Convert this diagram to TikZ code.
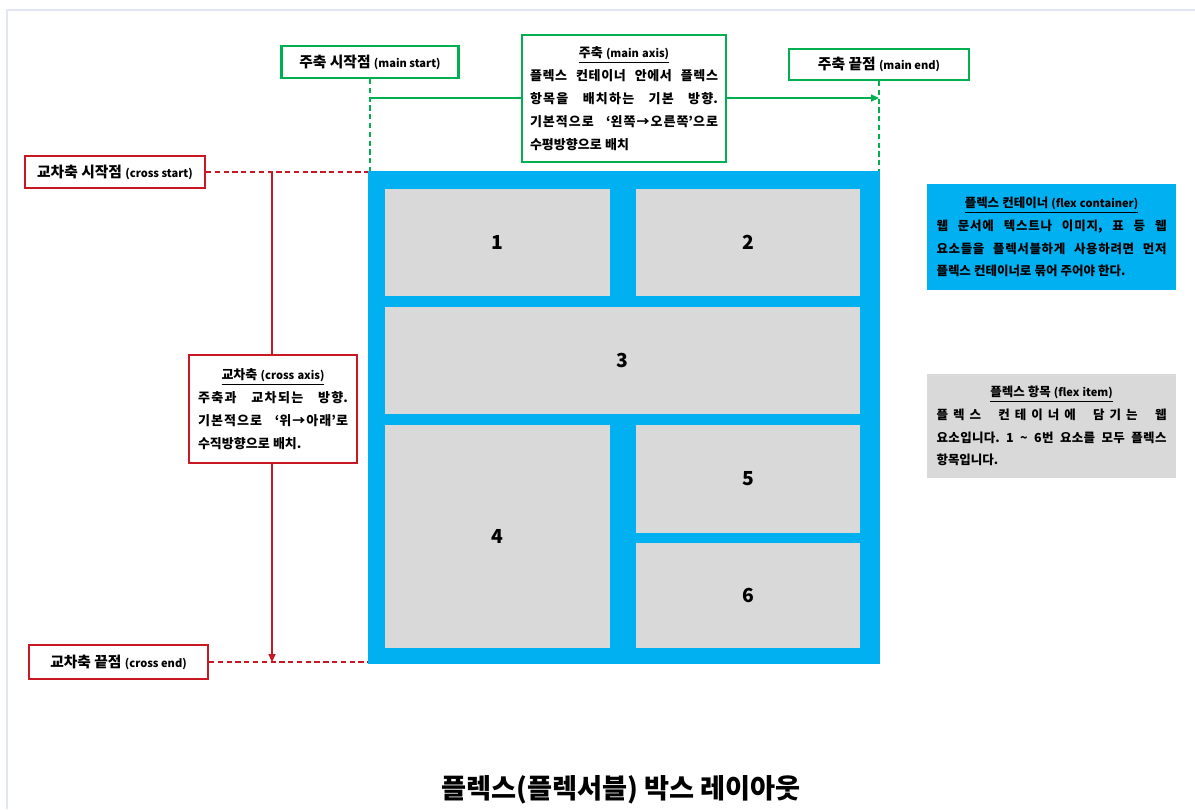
\documentclass[tikz,border=0pt]{standalone}
\usepackage{fontspec}
\setmainfont{Noto Sans CJK KR}
\usetikzlibrary{arrows.meta, positioning}
\XeTeXlinebreaklocale "ko"
\XeTeXlinebreakskip=0pt plus 0.5pt minus 0.15pt
\frenchspacing
\definecolor{boxgreen}{RGB}{0,176,80}
\definecolor{boxred}{RGB}{200,24,36}
\definecolor{flexblue}{RGB}{0,176,240}
\definecolor{itemgray}{RGB}{217,217,217}
\definecolor{pageedge}{RGB}{226,229,246}
\newcommand{\eng}[1]{{\fontsize{6.3}{6}\selectfont #1}}
\newcommand{\widespaces}{\spaceskip=.25em plus .6em minus .05em\relax}

\begin{document}
\begin{tikzpicture}[x=0.02cm, y=-0.02cm,
    tagbox/.style={fill=white, line width=1.2pt, inner sep=0pt,
        font=\fontsize{8.4}{13}\selectfont\bfseries},
    mainbox/.style={tagbox, draw=boxgreen},
    crossbox/.style={tagbox, draw=boxred},
    textbox/.style={align=justify,
        font=\fontsize{7.4}{13}\selectfont\bfseries\widespaces},
    note/.style={tagbox, textbox, draw=none,
        font=\fontsize{7.1}{13}\selectfont\bfseries\widespaces},
    flexitem/.style={fill=itemgray, inner sep=0pt,
        font=\fontsize{11}{13}\selectfont\bfseries},
    mainline/.style={boxgreen, line width=0.9pt},
    crossline/.style={boxred, line width=0.9pt},
    guide/.style={dash pattern=on 3pt off 2pt},
    tip/.style={-{Triangle[length=4.5pt, width=4pt]}}]
  \useasboundingbox (0,0) rectangle (1195,809);
  \draw[pageedge, line width=0.8pt] (7,809) -- (7,10) -- (1195,10);

  % flex container and its items
  \node[fill=flexblue, inner sep=0pt, minimum width=10.24cm, minimum height=9.86cm] (flex) at (624,417.5) {};
  \node[flexitem, minimum width=4.5cm, minimum height=2.14cm] (i1) at (497.5,242.5) {1};
  \node[flexitem, minimum width=4.48cm, minimum height=2.14cm] (i2) at (748,242.5) {2};
  \node[flexitem, minimum width=9.5cm, minimum height=2.14cm] (i3) at (622.5,360.5) {3};
  \node[flexitem, minimum width=4.5cm, minimum height=4.46cm] (i4) at (497.5,536.5) {4};
  \node[flexitem, minimum width=4.48cm, minimum height=2.16cm] (i5) at (748,479) {5};
  \node[flexitem, minimum width=4.48cm, minimum height=2.1cm] (i6) at (748,595.5) {6};

  % start and end labels
  \node[mainbox, minimum width=3.54cm, minimum height=0.64cm] (ms) at (370,62) {주축 시작점 \eng{(main start)}};
  \node[mainbox, minimum width=3.6cm, minimum height=0.62cm] (me) at (879,64.5) {주축 끝점 \eng{(main end)}};
  \node[crossbox, minimum width=3.6cm, minimum height=0.64cm] (cs) at (115,172) {교차축 시작점 \eng{(cross start)}};
  \node[crossbox, minimum width=3.58cm, minimum height=0.68cm] (ce) at (118.5,662) {교차축 끝점 \eng{(cross end)}};

  \coordinate (mainy) at (0,98);
  \coordinate (crossx) at (272,0);

  \draw[mainline, guide] (ms) -- (ms.south |- flex.north);
  \draw[mainline, guide] (me) -- (me.south |- flex.north);
  \draw[mainline, tip] (ms.south |- mainy) -- (me.south |- mainy);
  \draw[crossline, guide] (cs) -- (cs.east -| flex.west);
  \draw[crossline, guide] (ce) -- (ce.east -| flex.west);
  \draw[crossline, tip] (cs.east -| crossx) -- (ce.east -| crossx);

  % axis notes
  \node[mainbox, textbox, text width=3.76cm, inner xsep=0.16cm, minimum height=2.54cm] (axis) at (624,98.5)
    {{\centering\underline{주축 \eng{(main axis)}}\par}
     플렉스 컨테이너 안에서 플렉스\linebreak 항목을 배치하는 기본 방향.\linebreak
     기본적으로 ‘왼쪽→오른쪽’으로\linebreak 수평방향으로 배치};
  \node[crossbox, textbox, text width=3cm, inner xsep=0.18cm, minimum height=2.16cm] (cross) at (273,409)
    {{\centering\underline{교차축 \eng{(cross axis)}}\par}
     주축과 교차되는 방향.\linebreak 기본적으로 ‘위→아래’로\linebreak 수직방향으로 배치.};

  % legend
  \node[note, fill=flexblue, text width=4.6cm, inner xsep=0.19cm, minimum height=2.12cm] (fc) at (1051.5,237)
    {{\centering\underline{플렉스 컨테이너 \eng{(flex container)}}\par}
     웹 문서에 텍스트나 이미지, 표 등 웹\linebreak 요소들을 플렉서블하게 사용하려면 먼저\linebreak
     플렉스 컨테이너로 묶어 주어야 한다.};
  \node[note, fill=itemgray, text width=4.6cm, inner xsep=0.19cm, minimum height=2.08cm] (fi) at (1051.5,426)
    {{\centering\underline{플렉스 항목 \eng{(flex item)}}\par}
     {\XeTeXlinebreakskip=0pt plus 1.5pt 플렉스 컨테이너에 담기는 웹}\linebreak
     요소입니다. 1 \textasciitilde{} 6번 요소를 모두 플렉스\linebreak 항목입니다.};

  \node[font=\fontsize{15.5}{18}\selectfont\bfseries] (title) at (621,790) {플렉스(플렉서블) 박스 레이아웃};
\end{tikzpicture}
\end{document}
